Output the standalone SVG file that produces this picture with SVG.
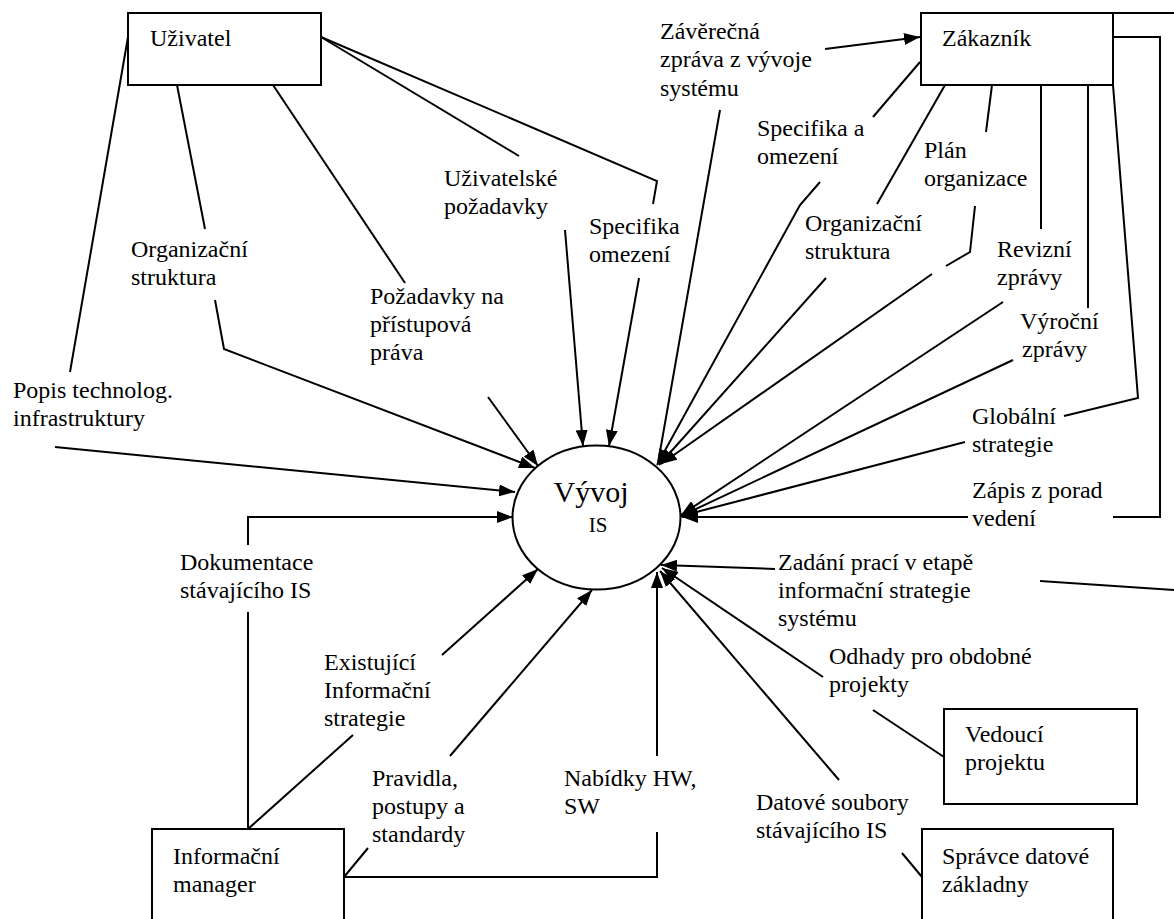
<svg xmlns="http://www.w3.org/2000/svg" width="1174" height="919" viewBox="0 0 1174 919">
  <style>
    .ln { fill: none; stroke: #000; stroke-width: 2; }
    .arr { fill: none; stroke: #000; stroke-width: 2; marker-end: url(#ah); }
    .box { fill: #fff; stroke: #000; stroke-width: 2; }
    text { font-family: "Liberation Serif", "Times New Roman", serif; font-size: 24px; fill: #000; }
    .big { font-size: 30px; }
    .mid { font-size: 21px; }
  </style>
  <defs>
    <marker id="ah" markerUnits="userSpaceOnUse" viewBox="0 0 16 12" markerWidth="16" markerHeight="12" refX="16" refY="6" orient="auto">
      <path d="M0,0 L16,6 L0,12 z" fill="#000"/>
    </marker>
  </defs>

  <rect width="1174" height="919" fill="#fff"/>

  <!-- data flows -->
  <g id="connectors">
    <!-- from Uživatel -->
    <polyline class="ln" points="128,37 70,372"/>
    <line class="arr" x1="55" y1="447" x2="515" y2="492"/>
    <polyline class="ln" points="177,85 205,229"/>
    <polyline class="arr" points="215,300 224,349 535,468"/>
    <polyline class="ln" points="273,85 405,283"/>
    <line class="arr" x1="488" y1="397" x2="538" y2="466"/>
    <polyline class="ln" points="321,37 519,156"/>
    <line class="arr" x1="565" y1="230" x2="583" y2="446"/>
    <polyline class="ln" points="321,37 657,181 653,204"/>
    <line class="arr" x1="639" y1="278" x2="609" y2="446"/>

    <!-- to / from Zákazník -->
    <line class="arr" x1="825" y1="49" x2="920" y2="37"/>
    <line class="ln" x1="720" y1="110" x2="658" y2="463"/>
    <line class="ln" x1="920" y1="62" x2="873" y2="117"/>
    <polyline class="arr" points="820,182 800,205 657,465"/>
    <line class="ln" x1="945" y1="85" x2="877" y2="204"/>
    <line class="arr" x1="826" y1="278" x2="659" y2="465"/>
    <line class="ln" x1="992" y1="85" x2="986" y2="132"/>
    <polyline class="ln" points="975,206 970,252 946,266"/>
    <line class="arr" x1="932" y1="274" x2="661" y2="464"/>
    <line class="ln" x1="1041" y1="85" x2="1041" y2="229"/>
    <line class="arr" x1="1003" y1="302" x2="681" y2="515"/>
    <line class="ln" x1="1088" y1="85" x2="1088" y2="308"/>
    <line class="arr" x1="1013" y1="360" x2="681" y2="516"/>
    <polyline class="ln" points="1113,85 1138,398 1064,416"/>
    <line class="arr" x1="965" y1="442" x2="681" y2="516"/>
    <polyline class="ln" points="1113,37 1160,37 1160,517 1113,517"/>
    <line class="arr" x1="968" y1="517" x2="682" y2="517"/>
    <line class="ln" x1="1113" y1="13" x2="1174" y2="13"/>

    <!-- lower right -->
    <line class="ln" x1="1174" y1="590" x2="1040" y2="581"/>
    <line class="arr" x1="775" y1="569" x2="661" y2="565"/>
    <line class="ln" x1="944" y1="757" x2="873" y2="710"/>
    <line class="arr" x1="823" y1="677" x2="662" y2="568"/>
    <line class="ln" x1="922" y1="877" x2="902" y2="853"/>
    <line class="arr" x1="839" y1="780" x2="660" y2="571"/>

    <!-- from Informační manager -->
    <line class="ln" x1="248" y1="829" x2="248" y2="612"/>
    <polyline class="arr" points="248,545 248,517 513,517"/>
    <line class="ln" x1="248" y1="829" x2="353" y2="735"/>
    <line class="arr" x1="442" y1="655" x2="538" y2="569"/>
    <line class="ln" x1="344" y1="877" x2="368" y2="848"/>
    <line class="arr" x1="450" y1="756" x2="592" y2="590"/>
    <polyline class="ln" points="344,877 657,877 657,832"/>
    <line class="arr" x1="657" y1="756" x2="657" y2="572"/>
  </g>

  <!-- flow labels -->
  <g id="labels">
    <text x="131" y="257">Organizační</text>
    <text x="131" y="285">struktura</text>
    <text x="444" y="186">Uživatelské</text>
    <text x="444" y="214">požadavky</text>
    <text x="589" y="234">Specifika</text>
    <text x="589" y="262">omezení</text>
    <text x="370" y="304">Požadavky na</text>
    <text x="370" y="332">přístupová</text>
    <text x="370" y="360">práva</text>
    <text x="13" y="398">Popis technolog.</text>
    <text x="13" y="426">infrastruktury</text>
    <text x="180" y="570">Dokumentace</text>
    <text x="180" y="598">stávajícího IS</text>
    <text x="324" y="670">Existující</text>
    <text x="324" y="698">Informační</text>
    <text x="324" y="726">strategie</text>
    <text x="372" y="786">Pravidla,</text>
    <text x="372" y="814">postupy a</text>
    <text x="372" y="842">standardy</text>
    <text x="564" y="786">Nabídky HW,</text>
    <text x="564" y="814">SW</text>
    <text x="756" y="810">Datové soubory</text>
    <text x="756" y="838">stávajícího IS</text>
    <text x="660" y="39">Závěrečná</text>
    <text x="660" y="67">zpráva z vývoje</text>
    <text x="660" y="96">systému</text>
    <text x="757" y="136">Specifika a</text>
    <text x="757" y="164">omezení</text>
    <text x="924" y="158">Plán</text>
    <text x="924" y="186">organizace</text>
    <text x="805" y="231">Organizační</text>
    <text x="805" y="259">struktura</text>
    <text x="997" y="257">Revizní</text>
    <text x="997" y="285">zprávy</text>
    <text x="1020" y="329">Výroční</text>
    <text x="1022" y="357">zprávy</text>
    <text x="972" y="424">Globální</text>
    <text x="972" y="452">strategie</text>
    <text x="972" y="498">Zápis z porad</text>
    <text x="972" y="526">vedení</text>
    <text x="778" y="570">Zadání prací v etapě</text>
    <text x="778" y="598">informační strategie</text>
    <text x="778" y="626">systému</text>
    <text x="829" y="664">Odhady pro obdobné</text>
    <text x="829" y="692">projekty</text>
  </g>

  <!-- central process -->
  <g id="vyvoj-is">
    <ellipse cx="596.5" cy="517.5" rx="84" ry="72" fill="#fff" stroke="#000" stroke-width="2"/>
    <text class="big" x="591" y="502" text-anchor="middle">Vývoj</text>
    <text class="mid" x="598" y="532" text-anchor="middle">IS</text>
  </g>

  <!-- external entities -->
  <g id="uzivatel">
    <rect class="box" x="128" y="13" width="193" height="72"/>
    <text x="150" y="46">Uživatel</text>
  </g>
  <g id="zakaznik">
    <rect class="box" x="921" y="13" width="192" height="72"/>
    <text x="942" y="46">Zákazník</text>
  </g>
  <g id="informacni-manager">
    <rect class="box" x="152" y="829" width="192" height="110"/>
    <text x="173" y="864">Informační</text>
    <text x="173" y="892">manager</text>
  </g>
  <g id="vedouci-projektu">
    <rect class="box" x="944" y="709" width="193" height="95"/>
    <text x="965" y="742">Vedoucí</text>
    <text x="965" y="770">projektu</text>
  </g>
  <g id="spravce-datove-zakladny">
    <rect class="box" x="922" y="829" width="191" height="110"/>
    <text x="942" y="864">Správce datové</text>
    <text x="942" y="892">základny</text>
  </g>
</svg>
